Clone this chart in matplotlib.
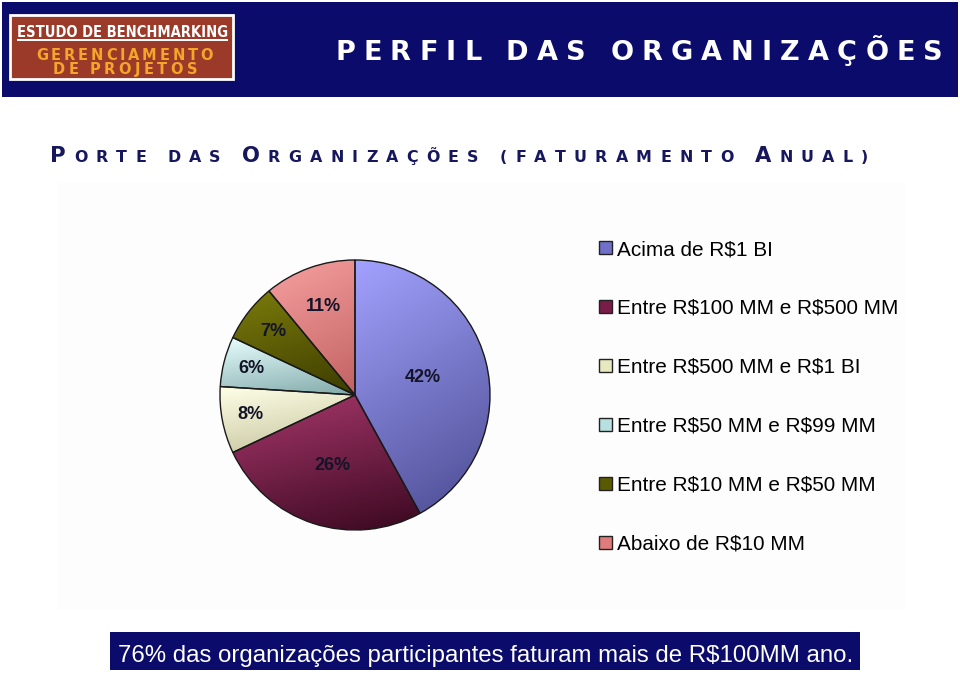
import numpy as np
import matplotlib
matplotlib.use("Agg")
import matplotlib.pyplot as plt
from matplotlib.colors import to_rgb
from matplotlib.patches import Rectangle, Patch

W, H = 960, 674

# data
categories = [
    "Acima de R\\$1 BI",
    "Entre R\\$100 MM e R\\$500 MM",
    "Entre R\\$500 MM e R\\$1 BI",
    "Entre R\\$50 MM e R\\$99 MM",
    "Entre R\\$10 MM e R\\$50 MM",
    "Abaixo de R\\$10 MM",
]
shares = [42, 26, 8, 6, 7, 11]
title = "PERFIL DAS ORGANIZAÇÕES"
subtitle = "Porte das Organizações (faturamento Anual)"
caption = "76% das organizações participantes faturam mais de R\\$100MM ano."

# styles
light_colors = ["#A2A2FF", "#A8386C", "#FFFFE8", "#E8FFFF", "#7C7C0C", "#F7A0A0"]
dark_colors = ["#4C4C92", "#3A0820", "#C4C29A", "#82AAAA", "#3C3C00", "#C26262"]
legend_colors = ["#7070C8", "#7A1C48", "#E8E8C0", "#B8E0E0", "#5A5A00", "#E07C7C"]
label_radius = [0.52, 0.55, 0.79, 0.79, 0.77, 0.70]
navy = "#0B0B6B"

fig = plt.figure(figsize=(W / 100, H / 100), dpi=100)
fig.patch.set_facecolor("white")
renderer = fig.canvas.get_renderer()


def px(x, y):
    return x / W, 1 - y / H


def rect(x0, y0, x1, y1, **kw):
    fig.add_artist(Rectangle(px(x0, y1), (x1 - x0) / W, (y1 - y0) / H,
                             transform=fig.transFigure, **kw))


def text_width(s, size, **kw):
    t = fig.text(0, 0, s, fontsize=size, **kw)
    w = t.get_window_extent(renderer=renderer).width
    t.remove()
    return w


def spaced(pieces, x0, x1, y, **kw):
    # pieces: list of (char, size); spread chars evenly between x0 and x1
    widths = []
    for ch, size in pieces:
        if ch == " ":
            widths.append(size * 100 / 72 * 0.3)
        else:
            widths.append(text_width(ch, size, **kw))
    gap = (x1 - x0 - sum(widths)) / (len(pieces) - 1)
    x = x0
    for (ch, size), w in zip(pieces, widths):
        if ch != " ":
            fig.text(*px(x, y), ch, fontsize=size, va="baseline", ha="left", **kw)
        x += w + gap


def fit_text(s, x0, x1, y, base=18, **kw):
    size = base * (x1 - x0) / text_width(s, base, **kw)
    fig.text(*px(x0, y), s, fontsize=size, va="baseline", ha="left", **kw)
    return size


# very light chart background
rect(57, 183, 906, 610, facecolor="#FDFDFD", edgecolor="none", zorder=0)

# banner
rect(2, 2, 958, 97, facecolor=navy, edgecolor="none", zorder=0)
rect(10, 15, 233, 79, facecolor="#9C3A2A", edgecolor="white", linewidth=2, zorder=1)
fit_text("ESTUDO DE BENCHMARKING", 17, 228, 37, base=14,
         family=["Liberation Sans Narrow", "DejaVu Sans"], fontstretch="condensed",
         fontweight="bold", color="white", zorder=2)
rect(17, 39.5, 228, 41, facecolor="white", edgecolor="none", zorder=2)
spaced([(c, 10.5) for c in "GERENCIAMENTO"], 36, 213, 60,
       family="DejaVu Sans", fontweight="bold", color="#F4A52A", zorder=2)
spaced([(c, 10.5) for c in "DE PROJETOS"], 53, 197, 74,
       family="DejaVu Sans", fontweight="bold", color="#F4A52A", zorder=2)

spaced([(c, 19.5) for c in title], 335, 943, 60,
       family="DejaVu Sans", fontweight="bold", color="white", zorder=2)

# subtitle in small caps
sub_pieces = []
for c in subtitle:
    if c.isupper():
        sub_pieces.append((c, 15.2))
    else:
        sub_pieces.append((c.upper(), 11.4))
spaced(sub_pieces, 50, 868, 162, family="DejaVu Sans", fontweight="bold",
       color="#17175E")

# pie
ax = fig.add_axes([(355 - 150) / W, (H - 395 - 150) / H, 300 / W, 300 / H])
wedges, _ = ax.pie(shares, startangle=90, counterclock=False,
                   colors=legend_colors,
                   wedgeprops=dict(edgecolor="#1A1A1A", linewidth=1.0))

for w, c_light, c_dark in zip(wedges, light_colors, dark_colors):
    ang = np.radians(np.linspace(w.theta1, w.theta2, 60))
    xs = np.concatenate([[w.center[0]], w.center[0] + w.r * np.cos(ang)])
    ys = np.concatenate([[w.center[1]], w.center[1] + w.r * np.sin(ang)])
    x0, x1, y0, y1 = xs.min(), xs.max(), ys.min(), ys.max()
    u = np.linspace(0, 1, 80)[None, :]
    v = np.linspace(0, 1, 80)[:, None]
    t = np.clip(0.75 * v + 0.25 * u, 0, 1)[..., None]
    img = np.array(to_rgb(c_light)) * (1 - t) + np.array(to_rgb(c_dark)) * t
    im = ax.imshow(img, extent=(x0, x1, y0, y1), origin="upper",
                   interpolation="bilinear", zorder=1)
    im.set_clip_path(w)
    w.set_facecolor("none")
    w.set_zorder(2)

for w, v, r in zip(wedges, shares, label_radius):
    mid = np.radians((w.theta1 + w.theta2) / 2)
    ax.text(r * np.cos(mid), r * np.sin(mid), f"{v}%", ha="center", va="center",
            fontsize=13, fontweight="bold", family="Liberation Sans",
            color="#141428", zorder=3)

ax.set_xlim(-1.111, 1.111)
ax.set_ylim(-1.111, 1.111)
ax.set_aspect("equal")
ax.axis("off")

# legend
leg_size = 18 * 281 / text_width(categories[1], 18, family="Liberation Sans")
handles = [Patch(facecolor=c, edgecolor="#222222", linewidth=1) for c in legend_colors]
fig.legend(handles, categories, loc="upper left",
           bbox_to_anchor=px(599, 240), bbox_transform=fig.transFigure,
           frameon=False, handlelength=0.62, handleheight=0.62,
           handletextpad=0.25, labelspacing=1.93, borderpad=0, borderaxespad=0,
           prop=dict(family="Liberation Sans", size=leg_size))

# caption box
rect(110, 632, 860, 670, facecolor=navy, edgecolor="none", zorder=0)
fit_text(caption, 118, 852, 662, base=18, family="Liberation Sans", color="white")

plt.savefig("out.png", dpi=100)
